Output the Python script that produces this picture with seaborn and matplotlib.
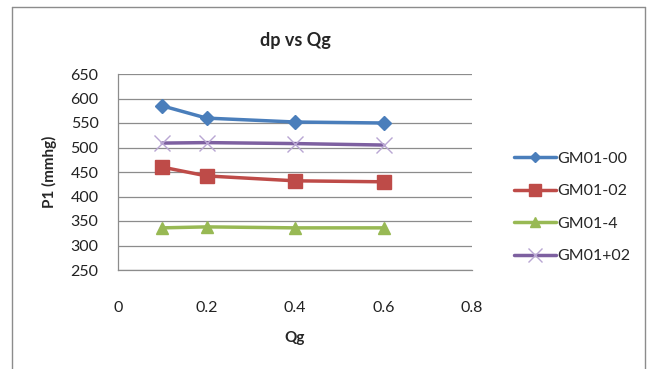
import matplotlib
matplotlib.use("Agg")
import matplotlib.pyplot as plt
import seaborn as sns
import pandas as pd
from matplotlib.lines import Line2D

qg = [0.1, 0.2, 0.4, 0.6]
gm01_00 = [585, 560, 552, 550]
gm01_02 = [460, 442, 432, 430]
gm01_4 = [336, 338, 336, 336]
gm01_p02 = [509, 510, 508, 505]
series_names = ["GM01-00", "GM01-02", "GM01-4", "GM01+02"]
y_ticks = [250, 300, 350, 400, 450, 500, 550, 600, 650]
x_ticks = [0, 0.2, 0.4, 0.6, 0.8]

colors = ["#4A7EBB", "#BE4B48", "#98B954", "#7D60A0"]
marker_colors = ["#4A7EBB", "#BE4B48", "#98B954", "#B9A6D3"]
markers = ["D", "s", "^", "x"]
msizes = [7, 10, 9, 12]

sns.set_style("white")
plt.rcParams["font.family"] = ["Lato", "DejaVu Sans"]

fig = plt.figure(figsize=(6.51, 3.69), dpi=100)
ax = fig.add_axes([118/651, 1 - 270/369, (472-118)/651, (270-74)/369])

data = [gm01_00, gm01_02, gm01_4, gm01_p02]
handles = []
for name, vals, c, mc, m, ms in zip(series_names, data, colors, marker_colors, markers, msizes):
    df = pd.DataFrame({"Qg": qg, "P1": vals})
    sns.lineplot(data=df, x="Qg", y="P1", ax=ax, color=c, linewidth=2.5,
                 marker=m, markersize=ms, markeredgecolor=mc,
                 markeredgewidth=1 if m != "x" else 1.0,
                 mfc=mc if m != "x" else "none")
    handles.append(Line2D([0], [0], color=c, lw=2.5, marker=m,
                          markersize=ms * 0.8, markeredgecolor=mc, mfc=mc,
                          markeredgewidth=1))

ax.set_xlim(0, 0.8)
ax.set_ylim(250, 650)
ax.set_yticks(y_ticks)
ax.set_xticks(x_ticks)
ax.set_xticklabels(["0", "0.2", "0.4", "0.6", "0.8"])
ax.grid(axis="y", color="#8C8C8C", linewidth=0.9)
ax.set_axisbelow(True)
for s in ["top", "right"]:
    ax.spines[s].set_visible(False)
for s in ["left", "bottom"]:
    ax.spines[s].set_color("#8C8C8C")
    ax.spines[s].set_linewidth(0.9)
ax.tick_params(axis="x", length=0, pad=22, labelsize=11.5, colors="#222222")
ax.tick_params(axis="y", length=0, pad=14, labelsize=11.5, colors="#222222")
ax.set_xlabel("Qg", fontsize=11, fontweight="bold", labelpad=12)
ax.set_ylabel("P1 (mmhg)", fontsize=11, fontweight="bold", labelpad=10)
ax.set_title("dp vs Qg", fontsize=13, fontweight="bold", pad=20)

fig.legend(handles, series_names, loc="upper left", bbox_to_anchor=(508/651, 1 - 145/369),
           frameon=False, fontsize=11.5, handlelength=2.6, handletextpad=0.1,
           labelspacing=1.15, borderaxespad=0)

# outer chart border
fig.add_artist(Line2D([12/651, 12/651], [0, 1 - 7/369], transform=fig.transFigure, color="#8C8C8C", lw=1))
fig.add_artist(Line2D([12/651, 645/651], [1 - 7/369, 1 - 7/369], transform=fig.transFigure, color="#8C8C8C", lw=1))
fig.add_artist(Line2D([645/651, 645/651], [0, 1 - 7/369], transform=fig.transFigure, color="#8C8C8C", lw=1))

fig.savefig("out.png", dpi=100)
